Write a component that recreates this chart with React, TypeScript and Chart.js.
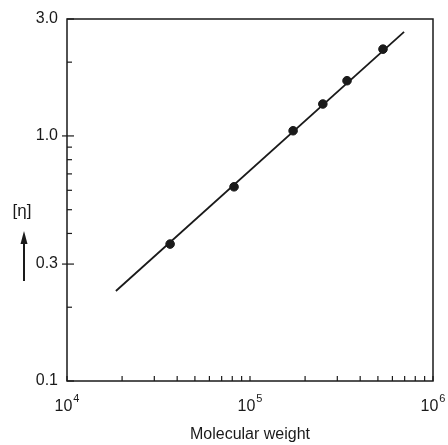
import React, { useEffect, useRef } from "react";
import { Chart, registerables } from "chart.js";

Chart.register(...registerables);

// Fitted line end points (molecular weight, intrinsic viscosity)
const lineMW = [18500, 695000];
const lineEta = [0.233, 2.66];

// Measured samples
const sampleMW = [36600, 81800, 172000, 250000, 339000, 533000];
const sampleEta = [0.362, 0.62, 1.05, 1.35, 1.68, 2.26];

// Axis tick values and labels
const xTickValues = [
  1e4, 2e4, 3e4, 4e4, 5e4, 6e4, 7e4, 8e4, 9e4,
  1e5, 2e5, 3e5, 4e5, 5e5, 6e5, 7e5, 8e5, 9e5, 1e6,
];
const xDecades = [1e4, 1e5, 1e6];
const yTickValues = [0.1, 0.2, 0.3, 0.4, 0.5, 0.6, 0.7, 0.8, 0.9, 1.0, 2.0, 3.0];
const yLabelValues = [0.1, 0.3, 1.0, 3.0];
const xTitle = "Molecular weight";
const yTitle = "[η]";

const FONT = "'Liberation Sans', Arial, sans-serif";
const INK = "#1a1a1a";

const framePlugin = {
  id: "frame",
  afterDraw(chart: any) {
    const { ctx, chartArea, scales } = chart;
    const { left, right, top, bottom } = chartArea;
    ctx.save();
    ctx.strokeStyle = INK;
    ctx.fillStyle = INK;
    ctx.lineWidth = 1.5;
    ctx.strokeRect(left, top, right - left, bottom - top);

    // inward tick marks
    ctx.lineWidth = 1.2;
    yTickValues.forEach((v) => {
      const py = scales.y.getPixelForValue(v);
      const major = yLabelValues.includes(v);
      ctx.beginPath();
      ctx.moveTo(left - (major && v !== 0.1 && v !== 3.0 ? 5 : 0), py);
      ctx.lineTo(left + (major ? 7 : 5), py);
      ctx.stroke();
    });
    xTickValues.forEach((v) => {
      const px = scales.x.getPixelForValue(v);
      ctx.beginPath();
      ctx.moveTo(px, bottom);
      ctx.lineTo(px, bottom - 5);
      ctx.stroke();
    });

    // decade labels on the x axis, written as 10 with a raised exponent
    ctx.textBaseline = "alphabetic";
    ctx.textAlign = "left";
    xDecades.forEach((v) => {
      const px = scales.x.getPixelForValue(v);
      const exp = String(Math.round(Math.log10(v)));
      ctx.font = `16px ${FONT}`;
      const wBase = ctx.measureText("10").width;
      ctx.font = `11px ${FONT}`;
      const wExp = ctx.measureText(exp).width;
      const x0 = px - (wBase + wExp + 1) / 2;
      ctx.font = `16px ${FONT}`;
      ctx.fillText("10", x0, bottom + 30);
      ctx.font = `11px ${FONT}`;
      ctx.fillText(exp, x0 + wBase + 1, bottom + 21);
    });

    // axis titles
    ctx.textAlign = "center";
    ctx.textBaseline = "middle";
    ctx.font = `16px ${FONT}`;
    ctx.fillText(xTitle, (left + right) / 2, 435);
    ctx.font = `17px ${FONT}`;
    ctx.fillText(yTitle, 22, 211);

    // upward arrow under the y title
    ctx.lineWidth = 2;
    ctx.beginPath();
    ctx.moveTo(24, 281);
    ctx.lineTo(24, 240);
    ctx.stroke();
    ctx.beginPath();
    ctx.moveTo(24, 231);
    ctx.lineTo(20.5, 244);
    ctx.lineTo(27.5, 244);
    ctx.closePath();
    ctx.fill();
    ctx.restore();
  },
};

export default function App() {
  const canvasRef = useRef<HTMLCanvasElement | null>(null);

  useEffect(() => {
    document.body.style.margin = "0";
    const canvas = canvasRef.current;
    if (!canvas) return;
    const chart = new Chart(canvas, {
      type: "scatter",
      data: {
        datasets: [
          {
            data: lineMW.map((x, i) => ({ x, y: lineEta[i] })),
            showLine: true,
            borderColor: INK,
            borderWidth: 1.8,
            pointRadius: 0,
          },
          {
            data: sampleMW.map((x, i) => ({ x, y: sampleEta[i] })),
            showLine: false,
            pointRadius: 4.3,
            pointBackgroundColor: INK,
            pointBorderColor: INK,
          },
        ],
      },
      options: {
        animation: false,
        responsive: false,
        layout: { padding: { top: 19, right: 15, left: 0, bottom: 0 } },
        plugins: { legend: { display: false }, tooltip: { enabled: false } },
        scales: {
          x: {
            type: "logarithmic",
            min: 1e4,
            max: 1e6,
            afterBuildTicks: (scale: any) => {
              scale.ticks = xTickValues.map((value) => ({ value }));
            },
            afterFit: (scale: any) => {
              scale.height = 64;
            },
            grid: { display: false, drawTicks: false },
            border: { display: false },
            ticks: { display: false },
          },
          y: {
            type: "logarithmic",
            min: 0.1,
            max: 3.0,
            afterBuildTicks: (scale: any) => {
              scale.ticks = yTickValues.map((value) => ({ value }));
            },
            afterFit: (scale: any) => {
              scale.width = 67;
            },
            grid: { display: false, drawTicks: false },
            border: { display: false },
            ticks: {
              autoSkip: false,
              padding: 9,
              color: INK,
              font: { family: FONT, size: 16 },
              callback: (v: any) => {
                const n = Number(v);
                return yLabelValues.some((l) => Math.abs(l - n) < 1e-9) ? n.toFixed(1) : "";
              },
            },
          },
        },
      },
      plugins: [framePlugin],
    });
    return () => chart.destroy();
  }, []);

  return (
    <div style={{ width: 448, height: 445 }}>
      <canvas ref={canvasRef} width={448} height={445} />
    </div>
  );
}
